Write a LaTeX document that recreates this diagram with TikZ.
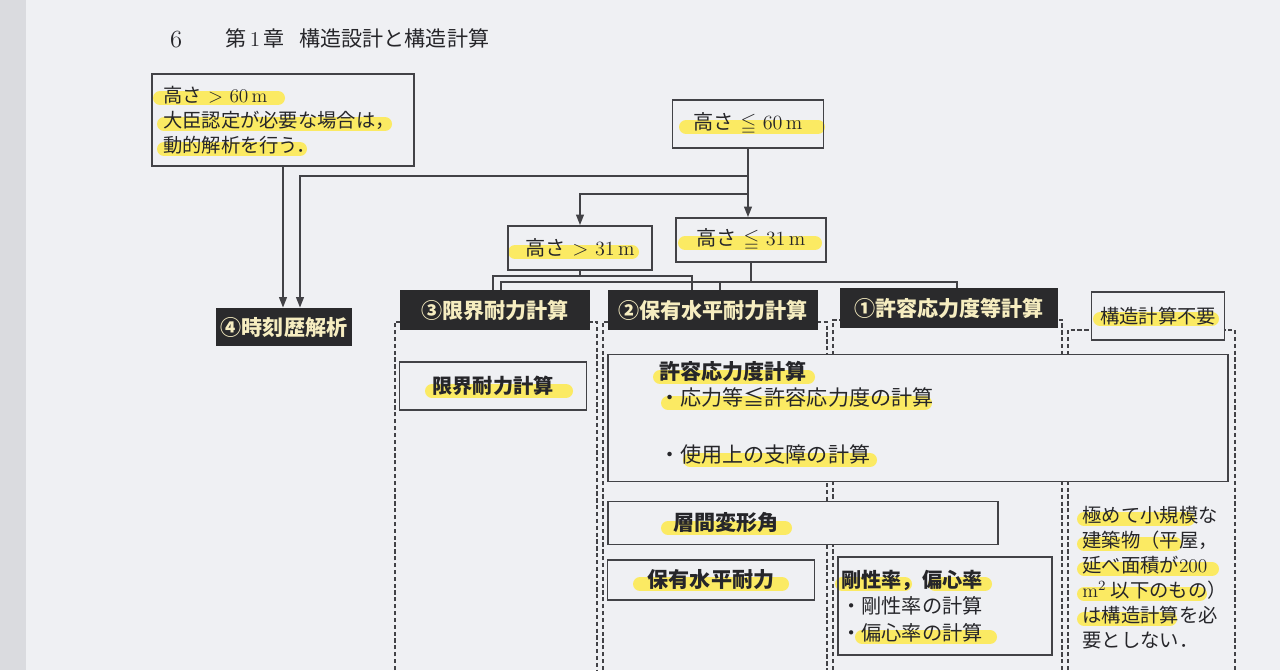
\documentclass[tikz,border=0pt]{standalone}
\usepackage{amssymb}
\usepackage{fontspec}
\newfontfamily\jpfont{Noto Sans CJK JP}
\usetikzlibrary{arrows.meta,calc,positioning}
\definecolor{PaperGrey}{RGB}{239,240,243}
\definecolor{EdgeGrey}{RGB}{218,219,223}
\definecolor{LineInk}{RGB}{66,66,70}
\definecolor{TextInk}{RGB}{38,38,42}
\definecolor{BoxBlack}{RGB}{42,42,44}
\definecolor{PaleInk}{RGB}{246,237,192}
\definecolor{Marker}{RGB}{255,233,64}
\newcommand{\pxu}{0.02cm}
\newcommand{\lw}{1pt}
\pgfdeclarelayer{paper}
\pgfdeclarelayer{marker}
\pgfsetlayers{paper,marker,main}

\tikzset{
  dims/.style 2 args={minimum width=#1*\pxu, minimum height=#2*\pxu},
  cond/.style={draw=LineInk, line width=\lw, inner sep=0pt, text=TextInk,
    font=\fontsize{11.5pt}{14pt}\selectfont},
  method/.style={fill=BoxBlack, inner sep=0pt, text=PaleInk,
    font=\jpfont\bfseries\fontsize{12pt}{14pt}\selectfont},
  item/.style={draw=LineInk, line width=\lw, inner sep=0pt, text=TextInk,
    font=\jpfont\bfseries\fontsize{12pt}{14pt}\selectfont},
  note/.style={inner sep=0pt, text=TextInk, align=left,
    font=\jpfont\fontsize{12pt}{15pt}\selectfont},
  link/.style={draw=LineInk, line width=\lw},
  flow/.style={link, -{Triangle[length=6pt,width=4.4pt]}},
  lane/.style={draw=LineInk, line width=\lw, dash pattern=on 2.4pt off 1.5pt},
  hilite/.style={draw=Marker, line width=0.28cm, line cap=round, opacity=.8},
}

\begin{document}
\begin{tikzpicture}[x=0.02cm, y=-0.02cm]
  \useasboundingbox (0,0) rectangle (1280,670);

  % page head
  \node[anchor=west, text=TextInk, font=\fontsize{14pt}{16pt}\selectfont] (pageno) at (164,40) {6};
  \node[anchor=west, text=TextInk, font=\fontsize{12pt}{14pt}\selectfont] (chapter) at (219,38)
    {{\jpfont 第}\,1\,{\jpfont 章}\hspace{0.7em}{\jpfont 構造設計と構造計算}};

  % height conditions
  \node[cond, dims={262}{92}, text width=4.8cm, font=\fontsize{11pt}{14.2pt}\selectfont] (over60) at (283,120)
    {{\jpfont 高さ} $>$ 60\,m\\ {\jpfont 大臣認定が必要な場合は，}\\ {\jpfont 動的解析を行う．}};
  \node[cond, dims={151}{48}] (upto60) at (748,124) {{\jpfont 高さ} $\leqq$ 60\,m};
  \node[cond, dims={144}{44}] (over31) at (580,248) {{\jpfont 高さ} $>$ 31\,m};
  \node[cond, dims={150}{44}] (upto31) at (751,240) {{\jpfont 高さ} $\leqq$ 31\,m};

  % calculation methods
  \node[method, dims={136}{38}] (history) at (284,327) {④時刻歴解析};
  \node[method, dims={190}{40}] (limit) at (495,310) {③限界耐力計算};
  \node[method, dims={210}{40}] (holding) at (713,310) {②保有水平耐力計算};
  \node[method, dims={218}{40}] (allowable) at (949,308) {①許容応力度等計算};
  \node[cond, dims={133}{48}, font=\jpfont\fontsize{11pt}{14pt}\selectfont] (nocalc) at (1158,316) {構造計算不要};

  % checks inside the lanes
  \node[item, dims={187}{48}, font=\jpfont\bfseries\fontsize{11.5pt}{14pt}\selectfont] (limititem) at (493,386) {限界耐力計算};
  \node[item, dims={620}{127}] (stresscalc) at (918,418) {};
  \node[note, anchor=north west] (stresstext) at (659,361)
    {{\bfseries 許容応力度計算}\\ ・応力等≦許容応力度の計算\\[17pt] ・使用上の支障の計算};
  \node[item, dims={390}{43}] (drift) at (803,523) {};
  \node[note, font=\jpfont\bfseries\fontsize{12pt}{14pt}\selectfont] (drifttext) at (726,523) {層間変形角};
  \node[item, dims={207}{40}] (holdforce) at (711,580) {保有水平耐力};
  \node[item, dims={214}{98}] (stiff) at (945,606) {};
  \node[note, anchor=north west, font=\jpfont\fontsize{11.5pt}{15pt}\selectfont] (stifftext) at (841,570)
    {{\bfseries 剛性率，偏心率}\\ ・剛性率の計算\\ ・偏心率の計算};
  \node[note, anchor=north west, font=\jpfont\fontsize{11pt}{14.2pt}\selectfont] (smalltext) at (1082,506)
    {極めて小規模な\\ 建築物（平屋，\\ 延べ面積が{\rmfamily 200}\\ {\rmfamily m}$^2$ 以下のもの）\\ は構造計算を必\\ 要としない．};

  % connectors
  \coordinate (bus60) at (0,176);
  \coordinate (bus31) at (0,194);
  \coordinate (busover) at (0,276);
  \coordinate (busupto) at (0,282);
  \path ([xshift=16*\pxu]history.north) coordinate (historyB)
        ([xshift=-2*\pxu]limit.north) coordinate (limitA)
        ([xshift=6*\pxu]limit.north) coordinate (limitB)
        ([xshift=-21*\pxu]holding.north) coordinate (holdingA)
        ([xshift=7*\pxu]holding.north) coordinate (holdingB)
        ([xshift=8*\pxu]allowable.north) coordinate (allowableB);
  \draw[flow] (over60.south) -- (over60.south |- history.north);
  \draw[flow] (upto60.south) |- (historyB |- bus60) -- (historyB);
  \draw[flow] (upto60.south |- bus60) -- (upto60.south |- bus31) -| (over31.north);
  \draw[flow] (upto60.south |- bus31) -- (upto60.south |- upto31.north);
  \draw[link] (over31.south) -- (over31.south |- busover);
  \draw[link] (limitA) |- (holdingA |- busover) -- (holdingA);
  \draw[link] (upto31.south) -- (upto31.south |- busupto);
  \draw[link] (limitB) |- (allowableB |- busupto) -- (allowableB);
  \draw[link] (holdingB |- busupto) -- (holdingB);

  % paper, lanes and plates under the boxes
  \begin{pgfonlayer}{paper}
    \fill[PaperGrey] (0,0) rectangle (1280,670);
    \fill[EdgeGrey] (0,0) rectangle (26,670);
    \draw[lane] (395,670) |- (597,322) -- (597,670);
    \draw[lane] (603,670) |- (827,322) -- (827,670);
    \draw[lane] (833,670) |- (1062,320) -- (1062,670);
    \draw[lane] (1068,670) |- (1235,330) -- (1235,670);
    \foreach \n in {stresscalc,drift,nocalc}
      \fill[PaperGrey] (\n.south west) rectangle (\n.north east);
  \end{pgfonlayer}

  % marker strokes
  \begin{pgfonlayer}{marker}
    \foreach \xa/\xb/\y in {160/278/98, 164/385/124, 164/300/149, 686/818/127,
        515/632/252, 685/815/243, 1100/1212/319, 432/566/391, 660/808/377,
        668/925/403, 690/870/460, 668/785/528, 640/782/584, 842/905/584,
        935/985/584, 862/990/637, 1084/1188/519, 1084/1175/544, 1084/1212/569,
        1084/1200/594, 1084/1170/619}
      \draw[hilite] (\xa,\y) -- (\xb,\y);
  \end{pgfonlayer}
\end{tikzpicture}
\end{document}
